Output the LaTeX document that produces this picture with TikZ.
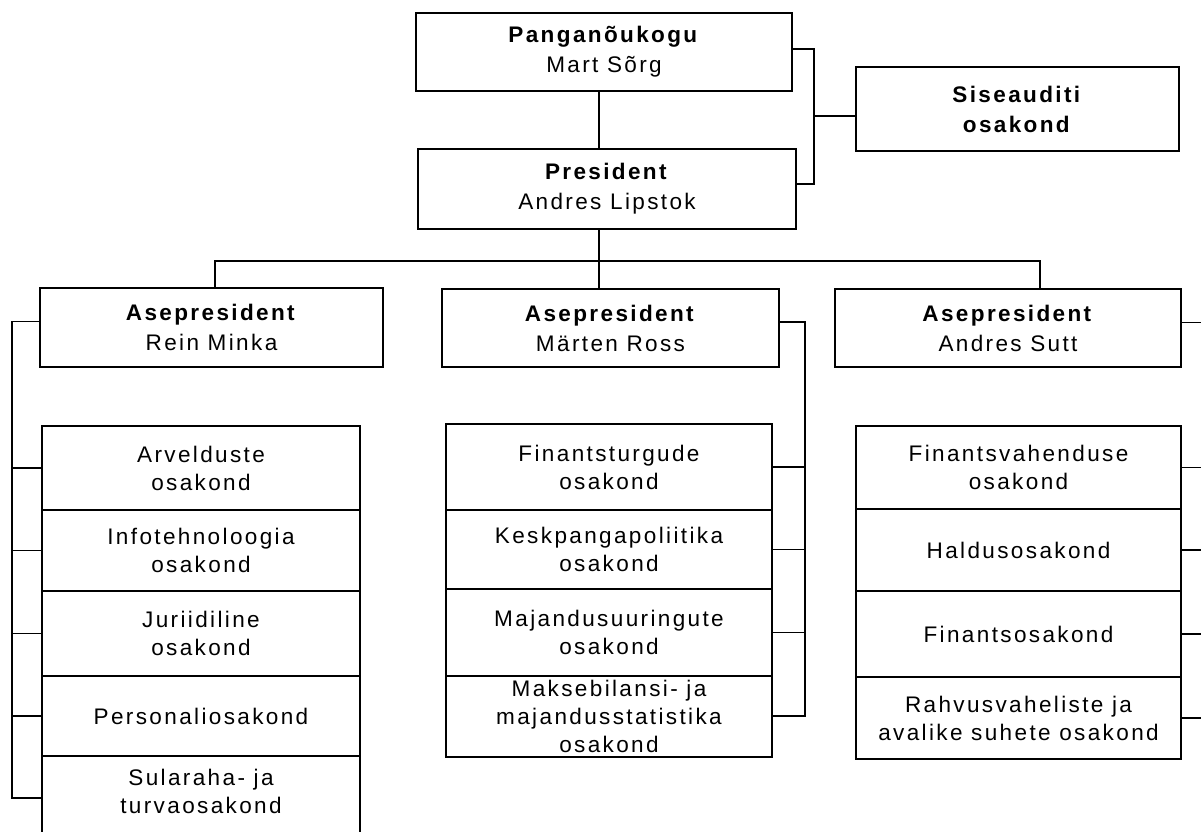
\documentclass[tikz,border=0pt]{standalone}
\usepackage{fontspec}
\setmainfont{Liberation Sans}[LetterSpace=10.5]
\tikzset{
  box/.style={draw, line width=1pt, inner sep=0pt, align=center},
  head/.style={box, font=\fontsize{16.9}{22.5}\selectfont},
  dept/.style={box, font=\fontsize{16.9}{21}\selectfont},
  depttext/.style={inner sep=0pt, align=center, font=\fontsize{16.9}{21}\selectfont},
  conn/.style={line width=1pt}
}
% \mybox{name}{x1}{y1}{x2}{y2}{style}{text}
\newcommand\mybox[7]{%
  \node[#6, minimum width={(#4-#2)*0.75pt}, minimum height={(#5-#3)*0.75pt}]
    (#1) at ({(#2+#4)/2},{(#3+#5)/2}) {#7};}
\begin{document}
\begin{tikzpicture}[x=0.75pt,y=-0.75pt]
\useasboundingbox (0,0) rectangle (1201,831);
\fill[white] (0,0) rectangle (1201,831);
\clip (0,0) rectangle (1201,831);

% top level
\mybox{pang}{416}{13}{792}{91}{head}{\textbf{Panganõukogu}\\Mart Sõrg}
\mybox{pres}{418}{149}{796}{229}{head}{\textbf{President}\\Andres Lipstok}
\mybox{sis}{856}{67}{1179}{151}{head}{\textbf{Siseauditi}\\\textbf{osakond}}

% vice presidents
\mybox{a1}{40}{288}{383}{367}{head}{\textbf{Asepresident}\\Rein Minka}
\mybox{a2}{442}{289}{779}{367}{head}{\textbf{Asepresident}\\Märten Ross}
\mybox{a3}{835}{289}{1181}{367}{head}{\textbf{Asepresident}\\Andres Sutt}

% left column
\mybox{l1}{42}{426}{360}{510}{dept}{Arvelduste\\osakond}
\mybox{l2}{42}{510}{360}{591}{dept}{Infotehnoloogia\\osakond}
\mybox{l3}{42}{591}{360}{676}{dept}{Juriidiline\\osakond}
\mybox{l4}{42}{676}{360}{756}{dept}{Personaliosakond}
\mybox{l5}{42}{756}{360}{850}{dept}{}
\node[depttext] (l5t) at (201,791) {Sularaha- ja\\turvaosakond};

% middle column
\mybox{m1}{446}{424}{772}{510}{dept}{Finantsturgude\\osakond}
\mybox{m2}{446}{510}{772}{589}{dept}{Keskpangapoliitika\\osakond}
\mybox{m3}{446}{589}{772}{676}{dept}{Majandusuuringute\\osakond}
\mybox{m4}{446}{676}{772}{757}{dept}{Maksebilansi- ja\\majandusstatistika\\osakond}

% right column
\mybox{r1}{856}{426}{1181}{509}{dept}{Finantsvahenduse\\osakond}
\mybox{r2}{856}{509}{1181}{591}{dept}{Haldusosakond}
\mybox{r3}{856}{591}{1181}{677}{dept}{Finantsosakond}
\mybox{r4}{856}{677}{1181}{759}{dept}{Rahvusvaheliste ja\\avalike suhete osakond}

% connectors: top
\coordinate (hbar) at (599,261);
\coordinate (hl) at (215,261);
\coordinate (hr) at (1040,261);
\draw[conn] (pang.south -| hbar) -- (pres.north -| hbar);
\draw[conn] (pres.south -| hbar) -- (hbar);
\draw[conn] (a1.north -| hl) |- (hr) -- (a3.north -| hr);
\draw[conn] (hbar) -- (a2.north -| hbar);

% audit bracket
\coordinate (bx) at (814,116);
\draw[conn] ([yshift=2.25pt]pang.east) -| (bx) |- ([yshift=3.75pt]pres.east);
\draw[conn] (bx) -- (sis.west |- bx);

% left bracket
\coordinate (lb) at (12,798);
\draw[conn] ([yshift=4.5pt]a1.west) -| (lb) -- (l5.west |- lb);
\foreach \n in {l1,l2,l3,l4} \draw[conn] (\n.west) -- (\n.west -| lb);

% middle bracket
\coordinate (mb) at (805,716);
\draw[conn] ([yshift=4.5pt]a2.east) -| (mb) -- (m4.east |- mb);
\foreach \n in {m1,m2,m3} \draw[conn] (\n.east) -- (\n.east -| mb);

% right side
\coordinate (rb) at (1206,0);
\draw[conn] ([yshift=4pt]a3.east) -- ([yshift=4pt]a3.east -| rb);
\foreach \n in {r1,r2,r3,r4} \draw[conn] (\n.east) -- (\n.east -| rb);
\end{tikzpicture}
\end{document}
